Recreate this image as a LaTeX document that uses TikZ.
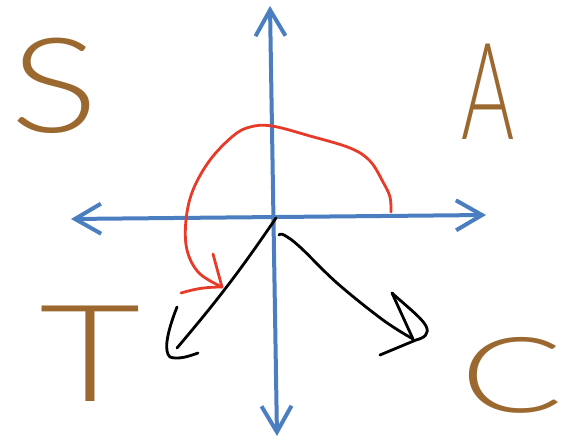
\documentclass[tikz,border=0pt]{standalone}
\usepackage{fontspec}
\newfontfamily\handfont{Lato Light}
\usetikzlibrary{arrows.meta}
\definecolor{axisblue}{RGB}{74,126,192}
\definecolor{arcred}{RGB}{232,58,40}
\definecolor{letterbrown}{RGB}{155,104,48}
\tikzset{
  axis/.style={draw=axisblue,line width=4pt,line cap=round,
    arrows={Straight Barb[length=26pt,width=30pt,line width=4pt]-Straight Barb[length=26pt,width=30pt,line width=4pt]}},
  redpen/.style={draw=arcred,line width=2.8pt,line cap=round,line join=round},
  blackpen/.style={draw=black,line width=2.8pt,line cap=round,line join=round},
  quadrant/.style={text=letterbrown,inner sep=0pt,font=\handfont}
}
\begin{document}
\begin{tikzpicture}[x=1pt,y=-1pt]
\useasboundingbox (0,0) rectangle (566,443);
% axes
\coordinate (top) at (270,6);
\coordinate (bottom) at (277,436);
\coordinate (left) at (71,219);
\coordinate (right) at (486,215);
\coordinate (O) at (276,218);
\draw[axis] (bottom) -- (top);
\draw[axis] (left) -- (right);
% quadrant letters
\node[quadrant,xscale=1.25,font=\handfont\fontsize{132}{132}\selectfont] (S) at (55,86) {S};
\node[quadrant,xscale=0.6,font=\handfont\fontsize{135}{135}\selectfont] (A) at (488,92) {A};
\node[quadrant,xscale=1.3,font=\handfont\fontsize{135}{135}\selectfont] (T) at (90,354) {T};
\node[quadrant,xscale=1.45,font=\handfont\fontsize{105}{105}\selectfont] (C) at (512,375) {C};
% red arc
\coordinate (rstart) at (391,212);
\coordinate (rtip) at (222,287);
\draw[redpen] plot[smooth,tension=0.6] coordinates {(391,212) (390,197) (383,182) (370,161) (350,148) (310,136) (272,126) (250,127) (233,136) (210,160) (193,190) (186,220) (187,250) (199,273) (222,287)};
\coordinate (rb1) at (213,254);
\coordinate (rb2) at (181,293);
\draw[redpen] (rb1) -- (rtip);
\draw[redpen] (rb2) to[bend left=8] (rtip);
% black arrow to third quadrant
\coordinate (b1tip) at (177,348);
\draw[blackpen] (O) to[bend left=3] (b1tip);
\draw[blackpen] (177,307) .. controls (166,335) and (164,352) .. (170,357) .. controls (178,360) and (190,356) .. (198,353);
% black arrow to fourth quadrant
\coordinate (b2start) at (279,235);
\coordinate (b2tip) at (413,339);
\draw[blackpen] plot[smooth,tension=0.6] coordinates {(279,235) (284,235) (300,247) (337,283) (383,320) (413,339)};
\coordinate (b2bar) at (392,293);
\draw[blackpen] (b2bar) -- (b2tip);
\draw[blackpen] (b2bar) .. controls (405,305) and (422,318) .. (426,326) .. controls (430,334) and (424,338) .. (416,340) -- (380,355);
\end{tikzpicture}
\end{document}
